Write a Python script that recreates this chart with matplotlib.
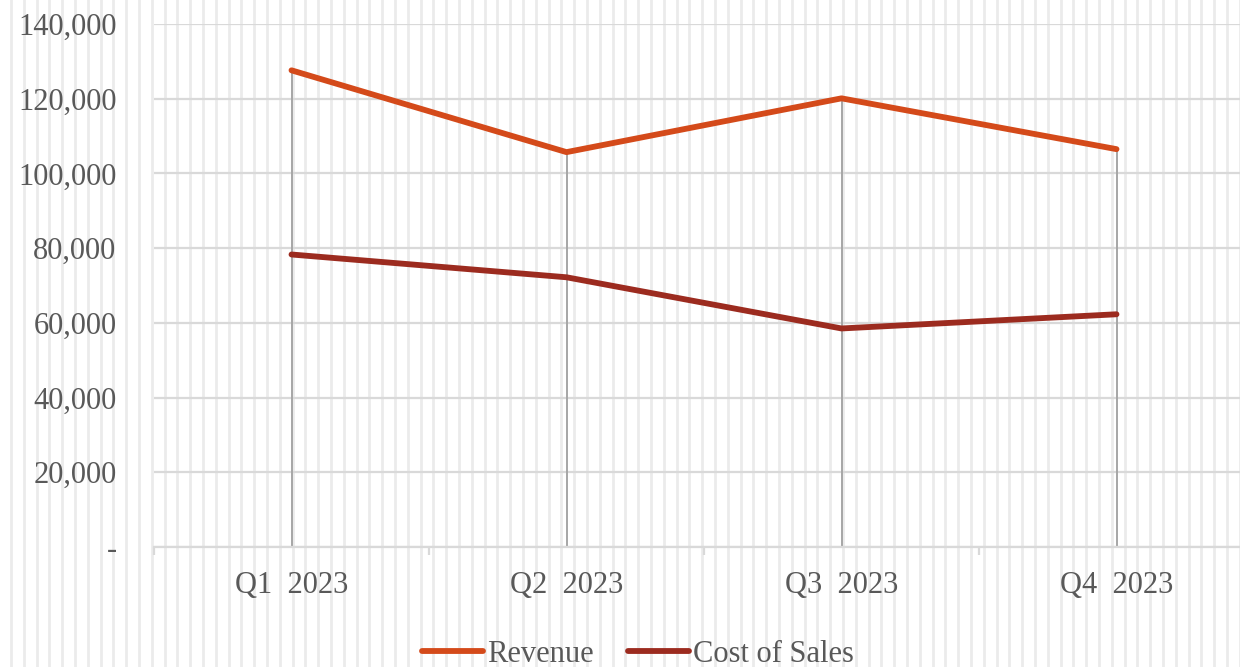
import matplotlib

matplotlib.use("Agg")
import matplotlib.pyplot as plt
import numpy as np
from matplotlib.lines import Line2D
from matplotlib.ticker import FuncFormatter

# Data
quarters = ["Q1  2023", "Q2  2023", "Q3  2023", "Q4  2023"]
revenue = [127600, 105700, 120100, 106500]
cost_of_sales = [78300, 72200, 58500, 62300]
y_ticks = [0, 20000, 40000, 60000, 80000, 100000, 120000, 140000]

REV_COLOR = "#d44a1a"
COST_COLOR = "#9c2b1f"
TEXT_COLOR = "#595959"
GRID_COLOR = "#d9d9d9"

plt.rcParams["font.family"] = ["Liberation Serif", "DejaVu Serif"]

fig = plt.figure(figsize=(12.4, 6.67), dpi=100)

# background vertical stripes across the whole figure
for xs in np.arange(11, 1240, 12.8):
    fig.add_artist(Line2D([xs / 1240, xs / 1240], [0, 1], transform=fig.transFigure,
                          color="#ebebeb", linewidth=2.0, zorder=0))

# plot area runs a bit past the right edge of the image
ax = fig.add_axes([154 / 1240, (667 - 547) / 667, 1100 / 1240, (547 - 24) / 667])
ax.patch.set_alpha(0)

x = np.arange(len(quarters))
ax.set_xlim(-0.5, len(quarters) - 0.5)
ax.set_ylim(0, 140000)

# drop lines from points to the axis
for xi, r in zip(x, revenue):
    ax.plot([xi, xi], [0, r], color="#a6a6a6", linewidth=1.4, zorder=2)

ax.plot(x, revenue, color=REV_COLOR, linewidth=4.2, solid_capstyle="round",
        solid_joinstyle="round", label="Revenue", zorder=3)
ax.plot(x, cost_of_sales, color=COST_COLOR, linewidth=4.2, solid_capstyle="round",
        solid_joinstyle="round", label="Cost of Sales", zorder=3)

ax.set_yticks(y_ticks)
ax.yaxis.set_major_formatter(FuncFormatter(lambda v, p: "-" if v == 0 else f"{int(v):,}"))
ax.grid(axis="y", color=GRID_COLOR, linewidth=1.6, zorder=1)
ax.set_axisbelow(True)

ax.set_xticks(x)
ax.set_xticklabels(quarters)
ax.set_xticks(np.arange(-0.5, len(quarters)), minor=True)
ax.tick_params(axis="x", which="major", length=0, pad=17, labelsize=22, labelcolor=TEXT_COLOR)
ax.tick_params(axis="x", which="minor", length=6, width=1.6, color=GRID_COLOR)
ax.tick_params(axis="y", length=0, pad=27, labelsize=22, labelcolor=TEXT_COLOR)

for side in ["top", "right", "left"]:
    ax.spines[side].set_visible(False)
ax.spines["bottom"].set_color(GRID_COLOR)
ax.spines["bottom"].set_linewidth(1.6)

leg = fig.legend(loc="center", bbox_to_anchor=(638 / 1240, 1 - 654 / 667), ncol=2, frameon=False,
                 fontsize=22, handlelength=2.0, handletextpad=0.15, columnspacing=1.1)
for t in leg.get_texts():
    t.set_color(TEXT_COLOR)

fig.savefig("out.png", dpi=100)
